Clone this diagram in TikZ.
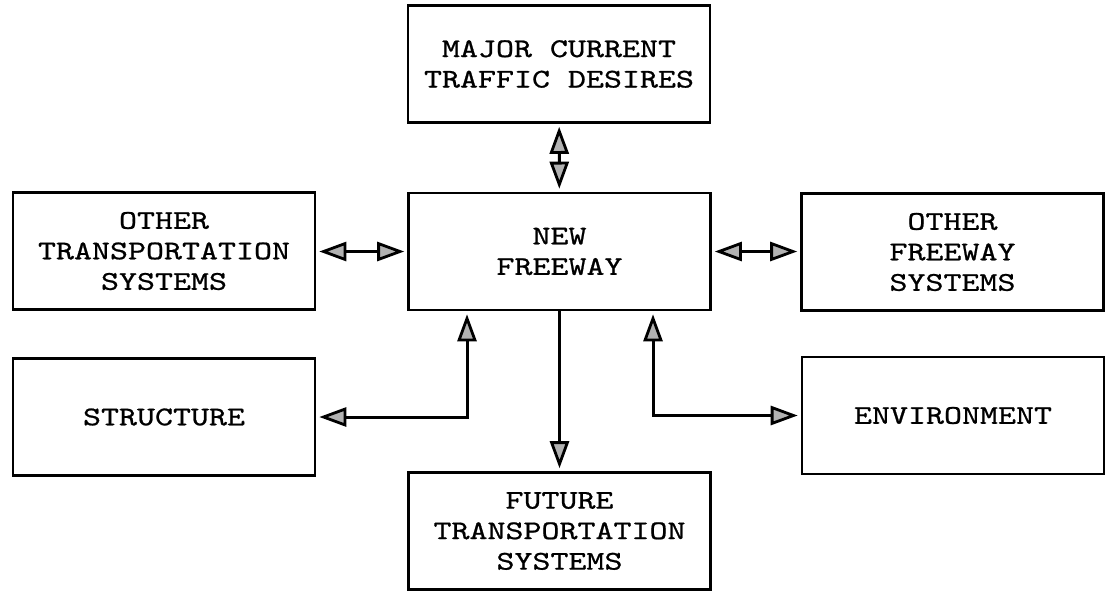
\documentclass[tikz,border=0pt]{standalone}
\usepackage{fontspec}
\newfontfamily\boxfont{lmmono10-regular.otf}[FakeStretch=1.27,FakeBold=0.8]
\usetikzlibrary{arrows.meta}

\tikzset{wedge/.tip={Triangle[length=27pt,width=19pt,line width=2.8pt,fill=gray!60]}}

\begin{document}
\begin{tikzpicture}[x=1pt,y=-1pt,
  box/.style={draw,line width=2.6pt,minimum width=302pt,minimum height=117pt,
    align=center,inner sep=0pt,font=\boxfont\fontsize{27}{30.5}\selectfont},
  link/.style={line width=3pt,{wedge}-{wedge},shorten <=3pt,shorten >=3pt},
  feed/.style={line width=3pt,-{wedge},shorten >=3pt}]
\useasboundingbox (0,0) rectangle (1110,595);

\node[box] (desires) at (559,64) {MAJOR CURRENT\\TRAFFIC DESIRES};
\node[box] (freeway) at (559.5,251.5) {NEW\\FREEWAY};
\node[box] (othertrans) at (164,251) {OTHER\\TRANSPORTATION\\SYSTEMS};
\node[box] (otherfwy) at (952.5,252) {OTHER\\FREEWAY\\SYSTEMS};
\node[box] (structure) at (164,417) {STRUCTURE};
\node[box] (environment) at (953,415.5) {ENVIRONMENT};
\node[box] (future) at (559.5,531) {FUTURE\\TRANSPORTATION\\SYSTEMS};

\draw[link] (desires) -- (freeway);
\draw[link] (othertrans.east |- freeway) -- (freeway);
\draw[link] (freeway) -- (otherfwy.west |- freeway);
\draw[link] ([xshift=-92.5pt]freeway.south) |- (structure.east);
\draw[link] ([xshift=93.5pt]freeway.south) |- (environment.west);
\draw[feed] (freeway) -- (future);
\end{tikzpicture}
\end{document}
